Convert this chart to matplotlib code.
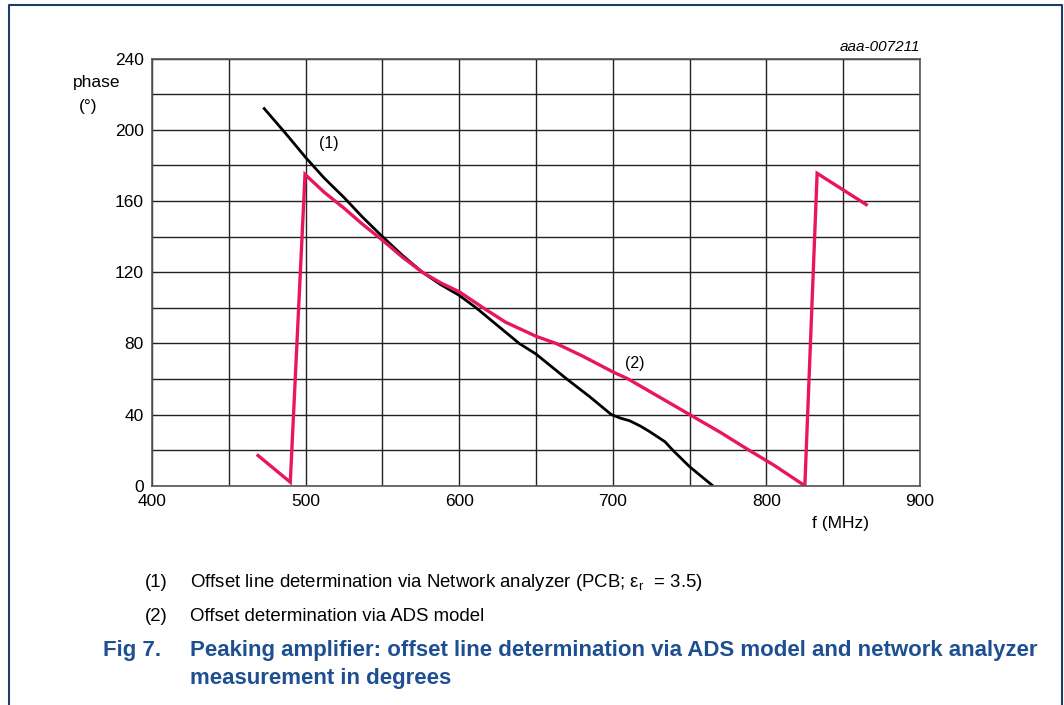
import matplotlib.pyplot as plt
import numpy as np
from matplotlib.lines import Line2D

plt.rcParams['font.family'] = ['Liberation Sans', 'DejaVu Sans']
plt.rcParams['mathtext.fontset'] = 'custom'
plt.rcParams['mathtext.rm'] = 'Liberation Sans'

# (1) network analyzer measurement
na_freq = [473, 487, 500, 512, 525, 537, 550, 563, 576, 588, 600, 611, 625, 639, 650, 660, 670, 685, 699, 705, 711, 718, 724, 734, 739, 750, 764.5]
na_phase = [212, 198, 184.5, 173, 162, 151, 140, 129.5, 120, 113, 107, 100, 90, 80, 74, 67, 60, 50, 40, 38, 36.5, 33.5, 30.4, 24.7, 20, 10.7, 0.4]

# (2) ADS model
ads_freq = [469, 490, 499.6, 512, 525, 537, 550, 563, 576, 588, 600, 615.6, 630, 650, 663, 680, 700, 710, 730, 750, 770, 788.6, 805, 825, 833, 865]
ads_phase = [17, 2, 175, 165, 156, 147, 138, 128.5, 120, 114, 109, 100, 92, 84, 80, 73, 64, 60, 50, 40, 30, 20, 11.5, 0, 175.6, 158]

x_ticks = [400, 500, 600, 700, 800, 900]
y_ticks = [0, 40, 80, 120, 160, 200, 240]

fig = plt.figure(figsize=(10.64, 7.05), dpi=100)
ax = fig.add_axes([0.1429, 0.311, 0.7218, 0.6057])

ax.set_xlim(400, 900)
ax.set_ylim(0, 240)
ax.set_xticks(x_ticks)
ax.set_yticks(y_ticks)
ax.set_xticks(np.arange(450, 900, 100), minor=True)
ax.set_yticks(np.arange(20, 240, 40), minor=True)
ax.grid(True, which='both', color='#222222', lw=1.0)
ax.set_axisbelow(True)
ax.tick_params(which='both', length=0, labelsize=12.5, pad=6)
for s in ax.spines.values():
    s.set_color('#555555')
    s.set_linewidth(1.2)

ax.plot(na_freq, na_phase, color='black', lw=2.0, solid_joinstyle='round')
ax.plot(ads_freq, ads_phase, color='#e8175d', lw=2.4, solid_joinstyle='miter')

ax.text(509, 190, '(1)', fontsize=11.5)
ax.text(708, 66, '(2)', fontsize=11.5)

fig.text(0.0912, 0.883, 'phase', fontsize=12.5, ha='center', va='center')
fig.text(0.0827, 0.849, '(°)', fontsize=12.5, ha='center', va='center')
fig.text(0.79, 0.257, 'f (MHz)', fontsize=12.5, ha='center', va='center')
fig.text(0.8647, 0.933, 'aaa-007211', fontsize=11, style='italic', ha='right', va='center')

# notes and figure caption
fig.text(0.136, 0.174, '(1)', fontsize=13.4, va='center')
fig.text(0.179, 0.174, r'Offset line determination via Network analyzer (PCB; ε$_{\rm r}$  = 3.5)',
         fontsize=13.4, va='center')
fig.text(0.136, 0.126, '(2)', fontsize=13.4, va='center')
fig.text(0.179, 0.126, 'Offset determination via ADS model', fontsize=13.4, va='center')
blue = '#1d4f91'
fig.text(0.097, 0.078, 'Fig 7.', fontsize=16, weight='bold', color=blue, va='center')
fig.text(0.179, 0.078, 'Peaking amplifier: offset line determination via ADS model and network analyzer',
         fontsize=16, weight='bold', color=blue, va='center')
fig.text(0.179, 0.038, 'measurement in degrees', fontsize=16, weight='bold', color=blue, va='center')

# outer frame, open at the bottom
frame = '#1a3d6b'
x0, x1, y1 = 9 / 1064, 1062 / 1064, 1 - 5 / 705
fig.add_artist(Line2D([x0, x0, x1, x1], [0, y1, y1, 0], transform=fig.transFigure,
                      color=frame, lw=1.5))

fig.savefig('out.png', dpi=100)
